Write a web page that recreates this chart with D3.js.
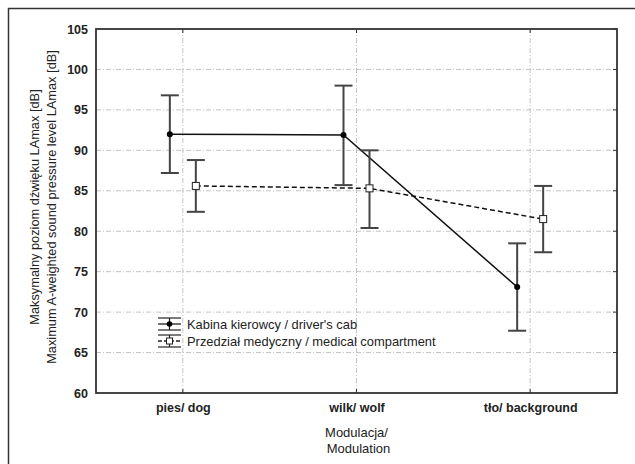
<!DOCTYPE html>
<html>
<head>
<meta charset="utf-8">
<script src="https://cdn.jsdelivr.net/npm/d3@7/dist/d3.min.js"></script>
<style>
  body { margin: 0; background: #fff; }
  svg text { font-family: "Liberation Sans", Arial, sans-serif; fill: #222; }
</style>
</head>
<body>
<svg id="chart"></svg>
<script>
var categories = ["pies/ dog", "wilk/ wolf", "tło/ background"];
var seriesNames = ["Kabina kierowcy / driver's cab", "Przedział medyczny / medical compartment"];
var cabMean = [92.0, 91.9, 73.1];
var cabHigh = [96.8, 98.0, 78.5];
var cabLow = [87.2, 85.7, 67.7];
var medMean = [85.6, 85.3, 81.5];
var medHigh = [88.8, 90.0, 85.6];
var medLow = [82.4, 80.4, 77.4];
var yTicks = [60, 65, 70, 75, 80, 85, 90, 95, 100, 105];

var w = 635, h = 464;
var margin = { left: 96, right: 18, top: 29, bottom: 71 };

var svg = d3.select("#chart").attr("width", w).attr("height", h);

// outer frame (runs off the right and bottom edges)
svg.append("rect")
    .attr("x", 8.5).attr("y", 8.5)
    .attr("width", 700).attr("height", 600)
    .attr("fill", "none").attr("stroke", "#333").attr("stroke-width", 1.5);

var x = d3.scalePoint().domain(categories)
    .range([margin.left, w - margin.right]).padding(0.5);
var off = d3.scalePoint().domain(["cab", "med"]).range([-13, 13]);
var y = d3.scaleLinear().domain([60, 105]).range([h - margin.bottom, margin.top]);

var x0 = margin.left, x1 = w - margin.right;
var y0 = h - margin.bottom, y1 = margin.top;

// grid
svg.append("g").selectAll("line").data(yTicks.slice(1, -1)).enter().append("line")
    .attr("x1", x0).attr("x2", x1)
    .attr("y1", function(d) { return y(d); }).attr("y2", function(d) { return y(d); })
    .attr("stroke", "#c4c4c4").attr("stroke-dasharray", "5,2,1,2");
svg.append("g").selectAll("line").data(categories).enter().append("line")
    .attr("y1", y0).attr("y2", y1)
    .attr("x1", function(d) { return x(d); }).attr("x2", function(d) { return x(d); })
    .attr("stroke", "#c4c4c4").attr("stroke-dasharray", "5,2,1,2");

// left axis labels
var yAxis = d3.axisLeft(y).tickValues(yTicks).tickSize(0).tickPadding(8);
var gy = svg.append("g").attr("transform", "translate(" + x0 + ",0)").call(yAxis);
gy.select(".domain").remove();
gy.selectAll("text").style("font-size", "12.5px").style("font-weight", "bold").attr("fill", "#333");

// right inner ticks
svg.append("g").selectAll("line").data(yTicks).enter().append("line")
    .attr("x1", x1 - 4).attr("x2", x1)
    .attr("y1", function(d) { return y(d); }).attr("y2", function(d) { return y(d); })
    .attr("stroke", "#333");

// bottom axis
var xAxis = d3.axisBottom(x).tickSize(0).tickPadding(10);
var gx = svg.append("g").attr("transform", "translate(0," + y0 + ")").call(xAxis);
gx.select(".domain").remove();
gx.selectAll("text").style("font-size", "12.5px").style("font-weight", "bold").attr("fill", "#333");

// top / bottom inner ticks
svg.append("g").selectAll("line").data(categories).enter().append("line")
    .attr("x1", function(d) { return x(d); }).attr("x2", function(d) { return x(d); })
    .attr("y1", y0).attr("y2", y0 - 4).attr("stroke", "#333");
svg.append("g").selectAll("line").data(categories).enter().append("line")
    .attr("x1", function(d) { return x(d); }).attr("x2", function(d) { return x(d); })
    .attr("y1", y1).attr("y2", y1 + 4).attr("stroke", "#333");

// plot border
svg.append("rect")
    .attr("x", x0).attr("y", y1).attr("width", x1 - x0).attr("height", y0 - y1)
    .attr("fill", "none").attr("stroke", "#333").attr("stroke-width", 1.8);

// axis titles
svg.append("text")
    .attr("transform", "translate(" + (x0 + x1) / 2 + "," + 437 + ")")
    .attr("text-anchor", "middle").style("font-size", "13px")
    .text("Modulacja/");
svg.append("text")
    .attr("transform", "translate(" + ((x0 + x1) / 2 + 2) + "," + 453 + ")")
    .attr("text-anchor", "middle").style("font-size", "13px")
    .text("Modulation");

var ty = (y0 + y1) / 2 - 4;
svg.append("text")
    .attr("transform", "translate(39," + ty + ") rotate(-90)")
    .attr("text-anchor", "middle").style("font-size", "12.8px")
    .text("Maksymalny poziom dźwięku LAmax [dB]");
svg.append("text")
    .attr("transform", "translate(56," + ty + ") rotate(-90)")
    .attr("text-anchor", "middle").style("font-size", "12.8px")
    .text("Maximum A-weighted sound pressure level LAmax [dB]");

function series(key, mean, high, low, dash) {
    var data = categories.map(function(c, i) {
        return { c: c, m: mean[i], hi: high[i], lo: low[i] };
    });
    var px = function(d) { return x(d.c) + off(key); };
    var g = svg.append("g");

    var line = d3.line().x(px).y(function(d) { return y(d.m); });
    g.append("path").datum(data).attr("d", line)
        .attr("fill", "none").attr("stroke", "#111").attr("stroke-width", 1.5)
        .attr("stroke-dasharray", dash);

    var eb = g.selectAll(".eb").data(data).enter().append("g");
    eb.append("line")
        .attr("x1", px).attr("x2", px)
        .attr("y1", function(d) { return y(d.hi); }).attr("y2", function(d) { return y(d.lo); })
        .attr("stroke", "#444").attr("stroke-width", 2);
    ["hi", "lo"].forEach(function(k) {
        eb.append("line")
            .attr("x1", function(d) { return px(d) - 9; }).attr("x2", function(d) { return px(d) + 9; })
            .attr("y1", function(d) { return y(d[k]); }).attr("y2", function(d) { return y(d[k]); })
            .attr("stroke", "#444").attr("stroke-width", 2);
    });
    return { g: g, data: data, px: px };
}

var cab = series("cab", cabMean, cabHigh, cabLow, null);
var med = series("med", medMean, medHigh, medLow, "5,3");

cab.g.selectAll(".pt").data(cab.data).enter().append("circle")
    .attr("cx", cab.px).attr("cy", function(d) { return y(d.m); })
    .attr("r", 3).attr("fill", "#000");
med.g.selectAll(".pt").data(med.data).enter().append("rect")
    .attr("x", function(d) { return med.px(d) - 3.5; })
    .attr("y", function(d) { return y(d.m) - 3.5; })
    .attr("width", 7).attr("height", 7)
    .attr("fill", "#fff").attr("stroke", "#222").attr("stroke-width", 1);

// legend
var legend = svg.append("g").attr("transform", "translate(158,324)");
seriesNames.forEach(function(name, i) {
    var gy2 = i * 17;
    var lg = legend.append("g").attr("transform", "translate(0," + gy2 + ")");
    lg.append("line").attr("x1", 11.5).attr("x2", 11.5).attr("y1", -6).attr("y2", 6)
        .attr("stroke", "#222").attr("stroke-width", 1.2);
    lg.append("line").attr("x1", 0).attr("x2", 23).attr("y1", -6).attr("y2", -6)
        .attr("stroke", "#222").attr("stroke-width", 1.2);
    lg.append("line").attr("x1", 0).attr("x2", 23).attr("y1", 6).attr("y2", 6)
        .attr("stroke", "#222").attr("stroke-width", 1.2);
    lg.append("line").attr("x1", 0).attr("x2", 23).attr("y1", 0).attr("y2", 0)
        .attr("stroke", "#222").attr("stroke-width", 1.3)
        .attr("stroke-dasharray", i === 0 ? null : "4,2");
    if (i === 0) {
        lg.append("circle").attr("cx", 11.5).attr("cy", 0).attr("r", 2.8).attr("fill", "#000");
    } else {
        lg.append("rect").attr("x", 8.5).attr("y", -3).attr("width", 6).attr("height", 6)
            .attr("fill", "#fff").attr("stroke", "#222");
    }
    lg.append("text").attr("x", 29).attr("y", 0).attr("dy", "0.35em")
        .style("font-size", "12.9px").text(name);
});
</script>
</body>
</html>
